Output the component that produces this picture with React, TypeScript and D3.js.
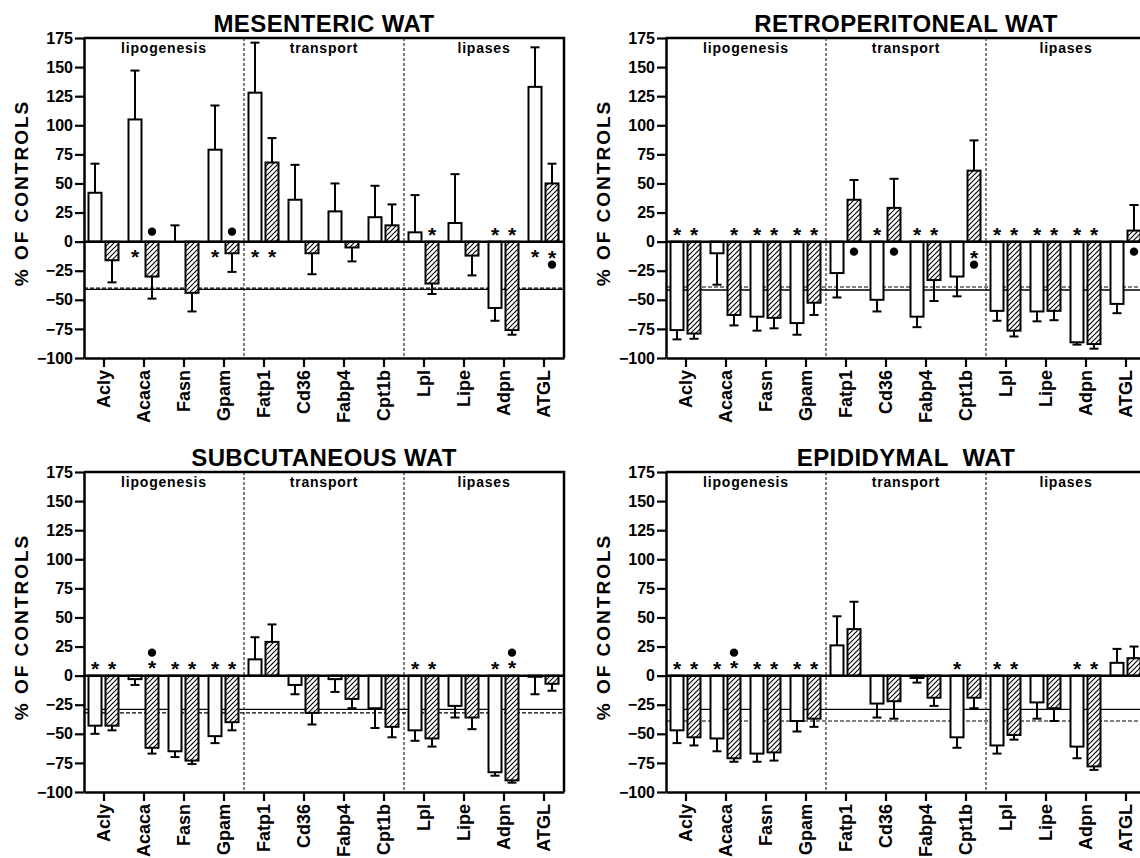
import { useEffect, useRef } from 'react'
import * as d3 from 'd3'

const genes = ['Acly', 'Acaca', 'Fasn', 'Gpam', 'Fatp1', 'Cd36', 'Fabp4', 'Cpt1b', 'Lpl', 'Lipe', 'Adpn', 'ATGL']
const sections = ['lipogenesis', 'transport', 'lipases']
const yTicks = [175, 150, 125, 100, 75, 50, 25, 0, -25, -50, -75, -100]

// MESENTERIC WAT
const mesWhite = [42, 105, 0, 79, 128, 36, 26, 21, 8, 16, -57, 133]
const mesWhiteErr = [25, 42, 14, 38, 43, 30, 24, 27, 32, 42, 11, 34]
const mesHatch = [-16, -30, -44, -10, 68, -10, -5, 14, -36, -12, -76, 50]
const mesHatchErr = [19, 19, 16, 16, 21, 18, 12, 18, 9, 17, 4, 17]
const mesWhiteStar = [0, 1, 0, 1, 1, 0, 0, 0, 0, 0, 1, 1]
const mesHatchStar = [0, 0, 0, 0, 1, 0, 0, 0, 1, 0, 1, 1]
const mesHatchDot = [0, 1, 0, 1, 0, 0, 0, 0, 0, 0, 0, 1]

// RETROPERITONEAL WAT
const retWhite = [-76, -10, -64.5, -70, -27, -50, -64.5, -30, -59.5, -60, -86.5, -53.5]
const retWhiteErr = [8, 27, 12, 10, 21, 10, 9, 17, 8.5, 8.5, 2, 8]
const retHatch = [-79, -63, -65.5, -52.5, 36, 29, -33, 61, -76.5, -59.5, -88, 9.5]
const retHatchErr = [4.5, 9, 9, 10.5, 17, 25, 18, 26, 5, 8, 4, 22]
const retWhiteStar = [1, 0, 1, 1, 0, 1, 1, 0, 1, 1, 1, 0]
const retHatchStar = [1, 1, 1, 1, 0, 0, 1, 1, 1, 1, 1, 0]
const retHatchDot = [0, 0, 0, 0, 1, 1, 0, 1, 0, 0, 0, 1]

// SUBCUTANEOUS WAT
const subWhite = [-43, -3, -65, -52, 14, -8, -3, -28, -47, -26, -83, -1]
const subWhiteErr = [7, 5, 5, 6, 19, 8, 11, 17, 9, 10, 3, 15]
const subHatch = [-43, -62, -73, -40, 29, -32, -20, -44, -54, -36, -90, -7]
const subHatchErr = [4, 5, 3, 7, 15, 10, 8, 9, 7, 10, 2, 6]
const subWhiteStar = [1, 0, 1, 1, 0, 0, 0, 0, 1, 0, 1, 0]
const subHatchStar = [1, 1, 1, 1, 0, 0, 0, 0, 1, 0, 1, 0]
const subHatchDot = [0, 1, 0, 0, 0, 0, 0, 0, 0, 0, 1, 0]

// EPIDIDYMAL WAT
const epiWhite = [-47, -54, -67, -39, 26, -24, -2, -53, -60, -23, -61, 11]
const epiWhiteErr = [11, 11, 7, 9, 25, 12, 4, 9, 7, 14, 10, 12]
const epiHatch = [-53, -71, -66, -37, 40, -22, -19, -19, -51, -28, -78, 15]
const epiHatchErr = [7, 3, 7, 7, 23.5, 15, 7, 9, 4, 11, 3, 10]
const epiWhiteStar = [1, 1, 1, 1, 0, 0, 0, 1, 1, 0, 1, 0]
const epiHatchStar = [1, 1, 1, 1, 0, 0, 0, 0, 1, 0, 1, 0]
const epiHatchDot = [0, 1, 0, 0, 0, 0, 0, 0, 0, 0, 0, 0]

const panels = [
  { title: 'MESENTERIC WAT', x: 84, y: 38, white: mesWhite, whiteErr: mesWhiteErr, hatch: mesHatch, hatchErr: mesHatchErr, whiteStar: mesWhiteStar, hatchStar: mesHatchStar, hatchDot: mesHatchDot, solid: -41, dashed: -40 },
  { title: 'RETROPERITONEAL WAT', x: 666, y: 38, white: retWhite, whiteErr: retWhiteErr, hatch: retHatch, hatchErr: retHatchErr, whiteStar: retWhiteStar, hatchStar: retHatchStar, hatchDot: retHatchDot, solid: -41.5, dashed: -39 },
  { title: 'SUBCUTANEOUS WAT', x: 84, y: 472, white: subWhite, whiteErr: subWhiteErr, hatch: subHatch, hatchErr: subHatchErr, whiteStar: subWhiteStar, hatchStar: subHatchStar, hatchDot: subHatchDot, solid: -29, dashed: -32 },
  { title: 'EPIDIDYMAL  WAT', x: 666, y: 472, white: epiWhite, whiteErr: epiWhiteErr, hatch: epiHatch, hatchErr: epiHatchErr, whiteStar: epiWhiteStar, hatchStar: epiHatchStar, hatchDot: epiHatchDot, solid: -29, dashed: -39 }
]

const FONT = '"Liberation Sans", Arial, Helvetica, sans-serif'

const App = () => {
  const svgRef = useRef<SVGSVGElement>(null)

  useEffect(() => {
    const width = 480
    const height = 320
    const root = d3.select(svgRef.current)
    root.selectAll('*').remove()

    const pat = root.append('defs').append('pattern')
      .attr('id', 'hatch')
      .attr('patternUnits', 'userSpaceOnUse')
      .attr('width', 5)
      .attr('height', 5)
    pat.append('rect').attr('width', 5).attr('height', 5).attr('fill', '#fff')
    pat.append('path')
      .attr('d', 'M-1,1 l2,-2 M0,5 l5,-5 M4,6 l2,-2')
      .attr('stroke', '#000')
      .attr('stroke-width', 1.1)

    const x = d3.scaleBand().domain(genes).range([0, width])
    const y = d3.scaleLinear().domain([-100, 175]).range([height, 0])
    const bw = 13
    const offW = -9
    const offH = 8

    panels.forEach(p => {
      const g = root.append('g').attr('transform', `translate(${p.x},${p.y})`)

      // title and y label
      g.append('text')
        .attr('x', width / 2).attr('y', -6)
        .attr('text-anchor', 'middle')
        .attr('font-family', FONT).attr('font-weight', 'bold').attr('font-size', 24)
        .attr('letter-spacing', 0.4)
        .style('white-space', 'pre')
        .text(p.title)

      g.append('text')
        .attr('transform', `translate(-56,${155}) rotate(-90)`)
        .attr('text-anchor', 'middle')
        .attr('font-family', FONT).attr('font-weight', 'bold').attr('font-size', 19)
        .attr('letter-spacing', 2)
        .text('% OF CONTROLS')

      sections.forEach((s, i) => {
        g.append('text')
          .attr('x', 80 + i * 160).attr('y', 15)
          .attr('text-anchor', 'middle')
          .attr('font-family', FONT).attr('font-weight', 'bold').attr('font-size', 14)
          .attr('letter-spacing', 0.8)
          .text(s)
      })

      // section dividers
      ;[genes[4], genes[8]].forEach(gn => {
        g.append('line')
          .attr('x1', x(gn)).attr('x2', x(gn))
          .attr('y1', 0).attr('y2', height)
          .attr('stroke', '#000').attr('stroke-width', 1)
          .attr('stroke-dasharray', '3,2')
      })

      // reference lines
      g.append('line')
        .attr('x1', 0).attr('x2', width)
        .attr('y1', y(p.solid)).attr('y2', y(p.solid))
        .attr('stroke', '#000').attr('stroke-width', 1.4)
      g.append('line')
        .attr('x1', 0).attr('x2', width)
        .attr('y1', y(p.dashed)).attr('y2', y(p.dashed))
        .attr('stroke', '#000').attr('stroke-width', 1.2)
        .attr('stroke-dasharray', '4,2')

      const series = [
        { vals: p.white, errs: p.whiteErr, off: offW, fill: '#fff', star: p.whiteStar, dot: p.white.map(() => 0) },
        { vals: p.hatch, errs: p.hatchErr, off: offH, fill: 'url(#hatch)', star: p.hatchStar, dot: p.hatchDot }
      ]

      series.forEach(sr => {
        genes.forEach((gn, i) => {
          const v = sr.vals[i]
          const cx = x(gn) + x.bandwidth() / 2 + sr.off
          const sign = v >= 0 ? 1 : -1
          const e = v + sign * sr.errs[i]
          // error bar
          g.append('line')
            .attr('x1', cx).attr('x2', cx)
            .attr('y1', y(v)).attr('y2', y(e))
            .attr('stroke', '#000').attr('stroke-width', 2)
          g.append('line')
            .attr('x1', cx - 4.5).attr('x2', cx + 4.5)
            .attr('y1', y(e)).attr('y2', y(e))
            .attr('stroke', '#000').attr('stroke-width', 2)
          // bar
          g.append('rect')
            .attr('x', cx - bw / 2)
            .attr('y', y(Math.max(v, 0)))
            .attr('width', bw)
            .attr('height', Math.abs(y(v) - y(0)))
            .attr('fill', sr.fill)
            .attr('stroke', '#000').attr('stroke-width', 2)

          // significance marks, on the side of zero opposite the bar
          const dir = v >= 0 ? 1 : -1
          const both = sr.star[i] && sr.dot[i]
          if (sr.star[i]) {
            const cy = y(0) + dir * (both ? 12 : 11)
            g.append('text')
              .attr('x', cx).attr('y', cy + 11)
              .attr('text-anchor', 'middle')
              .attr('font-family', FONT).attr('font-weight', 'bold').attr('font-size', 21)
              .text('*')
          }
          if (sr.dot[i]) {
            const cy = y(0) + dir * (both ? 23 : 10)
            g.append('circle')
              .attr('cx', cx).attr('cy', cy).attr('r', 4.2)
              .attr('fill', '#000')
          }
        })
      })

      // zero line
      g.append('line')
        .attr('x1', 0).attr('x2', width)
        .attr('y1', y(0)).attr('y2', y(0))
        .attr('stroke', '#000').attr('stroke-width', 2.5)

      // frame top/right
      g.append('path')
        .attr('d', `M0,0 H${width} V${height}`)
        .attr('fill', 'none')
        .attr('stroke', '#000').attr('stroke-width', 2.5)

      const ya = g.append('g')
        .call(d3.axisLeft(y).tickValues(yTicks).tickSize(9).tickSizeOuter(0).tickPadding(2))
      ya.select('.domain').attr('stroke-width', 2.5)
      ya.selectAll('.tick line').attr('stroke-width', 2.2)
      ya.selectAll('.tick text')
        .attr('font-family', FONT).attr('font-weight', 'bold').attr('font-size', 16)
        .attr('fill', '#000')

      const xa = g.append('g')
        .attr('transform', `translate(0,${height})`)
        .call(d3.axisBottom(x).tickSize(9).tickSizeOuter(0))
      xa.select('.domain').attr('stroke-width', 2.5)
      xa.selectAll('.tick line').attr('stroke-width', 2.2)
      xa.selectAll('.tick text')
        .attr('transform', 'rotate(-90)')
        .attr('text-anchor', 'end')
        .attr('x', -12).attr('y', 0).attr('dy', '0.35em')
        .attr('font-family', FONT).attr('font-weight', 'bold').attr('font-size', 18)
        .attr('fill', '#000')
    })
  }, [])

  return (
    <svg
      ref={svgRef}
      width={1140}
      height={858}
      style={{ position: 'absolute', left: 0, top: 0, background: '#fff' }}
    />
  )
}

export default App
